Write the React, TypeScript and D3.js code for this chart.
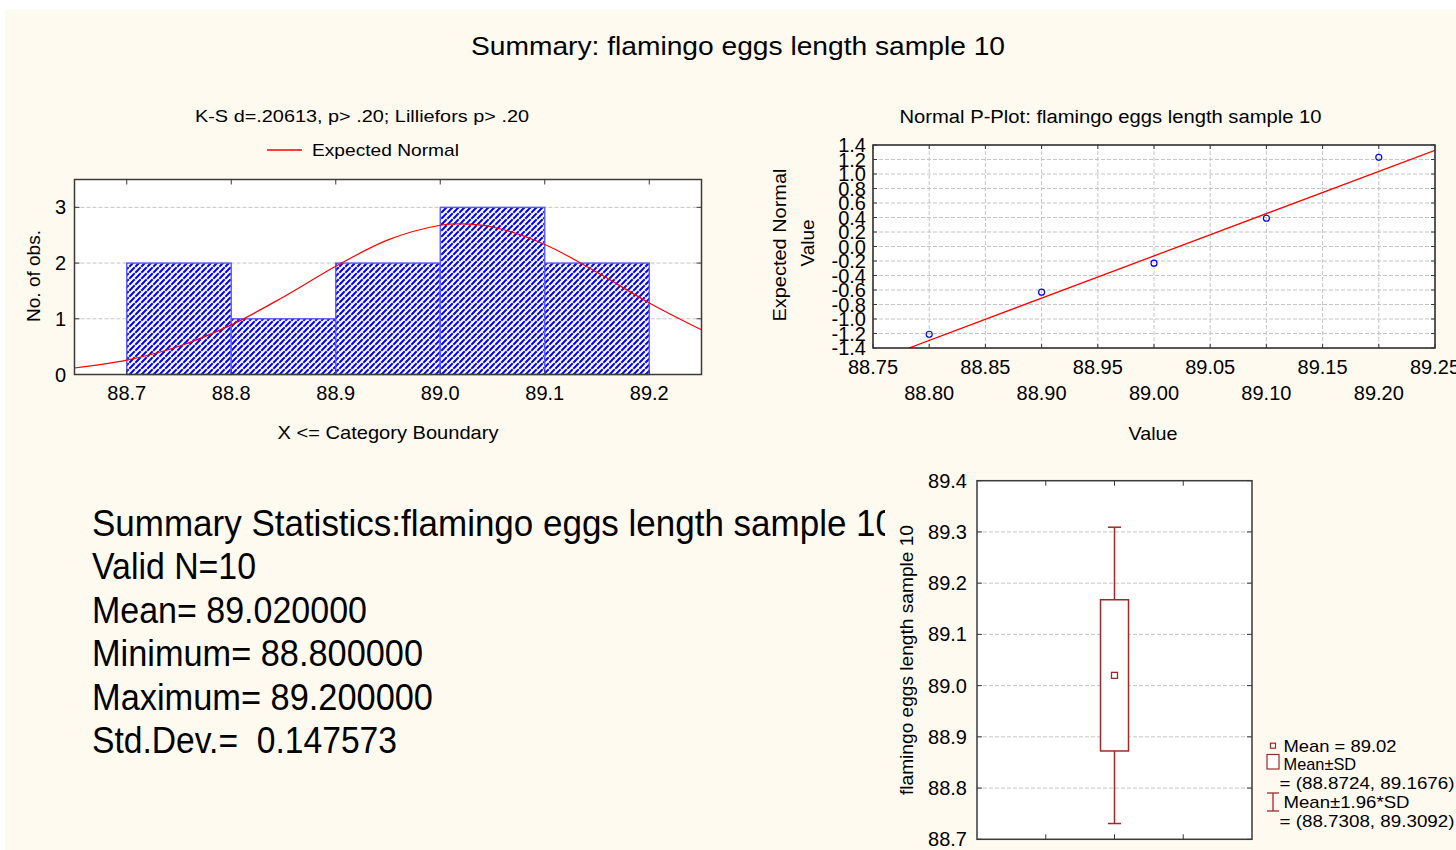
import React from 'react';
import * as d3 from 'd3';

const W = 1456;
const H = 850;
const FONT = '"Liberation Sans", Arial, Helvetica, sans-serif';

// ---------- text ----------
const mainTitle = 'Summary: flamingo eggs length sample 10';
const histTitle = 'K-S d=.20613, p> .20; Lilliefors p> .20';
const histLegend = 'Expected Normal';
const histXTitle = 'X <= Category Boundary';
const histYTitle = 'No. of obs.';
const ppTitle = 'Normal P-Plot: flamingo eggs length sample 10';
const ppYTitle1 = 'Expected Normal';
const ppYTitle2 = 'Value';
const ppXTitle = 'Value';
const boxYTitle = 'flamingo eggs length sample 10';
const summaryLines = [
  'Summary Statistics:flamingo eggs length sample 10',
  'Valid N=10',
  'Mean= 89.020000',
  'Minimum= 88.800000',
  'Maximum= 89.200000',
  'Std.Dev.=  0.147573',
];
const boxLegendLines = [
  'Mean = 89.02',
  'Mean\u00B1SD',
  '= (88.8724, 89.1676)',
  'Mean\u00B11.96*SD',
  '= (88.7308, 89.3092)',
];

// ---------- histogram data ----------
const histBounds = [88.7, 88.8, 88.9, 89.0, 89.1, 89.2];
const histCounts = [2, 1, 2, 3, 2];
const histYTicks = [0, 1, 2, 3];
const histXTicks = [88.7, 88.8, 88.9, 89.0, 89.1, 89.2];
const normalX = [88.65, 88.7, 88.75, 88.8, 88.85, 88.9, 88.95, 89.0, 89.02, 89.05, 89.1, 89.15, 89.2, 89.25];
const normalY = [0.117, 0.258, 0.507, 0.89, 1.392, 1.942, 2.416, 2.679, 2.703, 2.648, 2.334, 1.834, 1.285, 0.802];

// ---------- P-plot data ----------
const ppValues = [88.8, 88.9, 89.0, 89.1, 89.2];
const ppExpected = [-1.21, -0.63, -0.23, 0.39, 1.23];
const ppLineX = [88.782, 89.25];
const ppLineY = [-1.4, 1.327];
const ppXTicks = [88.75, 88.8, 88.85, 88.9, 88.95, 89.0, 89.05, 89.1, 89.15, 89.2, 89.25];
const ppYTicks = [1.4, 1.2, 1.0, 0.8, 0.6, 0.4, 0.2, 0.0, -0.2, -0.4, -0.6, -0.8, -1.0, -1.2, -1.4];

// ---------- box plot data ----------
const boxMean = 89.02;
const boxSD = [88.8724, 89.1676];
const boxCI = [88.7308, 89.3092];
const boxYTicks = [88.7, 88.8, 88.9, 89.0, 89.1, 89.2, 89.3, 89.4];

const BOX_RED = '#a3282b';
const GRID = '#c4c4c4';
const FRAME = '#3a3a3a';

type TProps = {
  x: number; y: number; size: number; children: string;
  anchor?: 'start' | 'middle' | 'end'; len?: number; rotate?: boolean; fill?: string;
};
function T({ x, y, size, children, anchor = 'start', len, rotate, fill = '#000' }: TProps) {
  return (
    <text
      x={x}
      y={y}
      fontSize={size}
      fontFamily={FONT}
      textAnchor={anchor}
      fill={fill}
      textLength={len}
      lengthAdjust={len ? 'spacingAndGlyphs' : undefined}
      transform={rotate ? `rotate(-90 ${x} ${y})` : undefined}
      style={{ whiteSpace: 'pre' }}
    >
      {children}
    </text>
  );
}

function Histogram() {
  const L = 74.5, R = 701.5, TOP = 179.5, B = 374.5;
  const x = d3.scaleLinear().domain([88.65, 89.25]).range([L, R]);
  const y = d3.scaleLinear().domain([0, 3.5]).range([B, TOP]);
  const line = d3
    .line<number>()
    .x((_, i) => x(normalX[i]))
    .y((d) => y(d))
    .curve(d3.curveCatmullRom.alpha(0.5));
  return (
    <g>
      <T x={362} y={122} size={17} anchor="middle" len={334}>{histTitle}</T>
      <line x1={267} x2={302} y1={150} y2={150} stroke="#ff0000" strokeWidth={1.3} />
      <T x={312} y={156} size={17} len={147}>{histLegend}</T>
      <rect x={L} y={TOP} width={R - L} height={B - TOP} fill="#fff" />
      {histYTicks.filter((v) => v > 0).map((v) => (
        <line key={v} x1={L} x2={R} y1={y(v)} y2={y(v)} stroke={GRID} strokeDasharray="4,2" strokeWidth={1} />
      ))}
      {histCounts.map((c, i) => {
        const x0 = x(histBounds[i]);
        const x1 = x(histBounds[i + 1]);
        return (
          <rect key={i} x={x0} y={y(c)} width={x1 - x0} height={y(0) - y(c)}
            fill="url(#hatch)" stroke="#5a5aff" strokeWidth={1.4} />
        );
      })}
      <path d={line(normalY) || ''} fill="none" stroke="#ff0000" strokeWidth={1.2} clipPath="url(#histClip)" />
      <rect x={L} y={TOP} width={R - L} height={B - TOP} fill="none" stroke={FRAME} strokeWidth={1.5} />
      {histYTicks.map((v) => (
        <g key={v}>
          <line x1={L} x2={L + 5} y1={y(v)} y2={y(v)} stroke={FRAME} />
          <line x1={R - 5} x2={R} y1={y(v)} y2={y(v)} stroke={FRAME} />
          <T x={66} y={y(v) + 7} size={20} anchor="end">{String(v)}</T>
        </g>
      ))}
      {histXTicks.map((v) => (
        <g key={v}>
          <line x1={x(v)} x2={x(v)} y1={B} y2={B - 5} stroke={FRAME} />
          <line x1={x(v)} x2={x(v)} y1={TOP} y2={TOP + 5} stroke={FRAME} />
          <T x={x(v)} y={400} size={20} anchor="middle">{d3.format('.1f')(v)}</T>
        </g>
      ))}
      <T x={40} y={276} size={19} anchor="middle" rotate len={92}>{histYTitle}</T>
      <T x={388} y={439} size={19} anchor="middle" len={221}>{histXTitle}</T>
    </g>
  );
}

function PPlot() {
  const L = 873, R = 1435, TOP = 145, B = 348;
  const x = d3.scaleLinear().domain([88.75, 89.25]).range([L, R]);
  const y = d3.scaleLinear().domain([-1.4, 1.4]).range([B, TOP]);
  const line = d3
    .line<number>()
    .x((d) => x(d))
    .y((_, i) => y(ppLineY[i]));
  return (
    <g>
      <T x={1110.5} y={123} size={18} anchor="middle" len={422}>{ppTitle}</T>
      <rect x={L} y={TOP} width={R - L} height={B - TOP} fill="#fff" />
      {ppXTicks.slice(1, -1).map((v) => (
        <line key={v} x1={x(v)} x2={x(v)} y1={TOP} y2={B} stroke={GRID} strokeDasharray="4,2" />
      ))}
      {ppYTicks.slice(1, -1).map((v) => (
        <line key={v} x1={L} x2={R} y1={y(v)} y2={y(v)} stroke={GRID} strokeDasharray="4,2" />
      ))}
      <path d={line(ppLineX) || ''} fill="none" stroke="#ff0000" strokeWidth={1.3} clipPath="url(#ppClip)" />
      {ppValues.map((v, i) => (
        <circle key={v} cx={x(v)} cy={y(ppExpected[i])} r={3} fill="none" stroke="#0000ff" strokeWidth={1.2} />
      ))}
      <rect x={L} y={TOP} width={R - L} height={B - TOP} fill="none" stroke="#202020" strokeWidth={1.5} />
      {ppYTicks.map((v) => (
        <g key={v}>
          <line x1={L} x2={L + 4} y1={y(v)} y2={y(v)} stroke={FRAME} />
          <line x1={R - 4} x2={R} y1={y(v)} y2={y(v)} stroke={FRAME} />
          <T x={866} y={y(v) + 7} size={20} anchor="end">{d3.format('.1f')(v).replace('\u2212', '-')}</T>
        </g>
      ))}
      {ppXTicks.map((v, i) => (
        <g key={v}>
          <line x1={x(v)} x2={x(v)} y1={B} y2={B - 4} stroke={FRAME} />
          <line x1={x(v)} x2={x(v)} y1={TOP} y2={TOP + 4} stroke={FRAME} />
          <T x={x(v)} y={i % 2 === 0 ? 374 : 400} size={20} anchor="middle">{d3.format('.2f')(v)}</T>
        </g>
      ))}
      <T x={786} y={245} size={19} anchor="middle" rotate len={153}>{ppYTitle1}</T>
      <T x={814} y={243} size={19} anchor="middle" rotate len={47}>{ppYTitle2}</T>
      <T x={1153} y={440} size={19} anchor="middle" len={49}>{ppXTitle}</T>
    </g>
  );
}

function BoxPlot() {
  const L = 977, R = 1252, TOP = 480.7, B = 839.3;
  const y = d3.scaleLinear().domain([88.7, 89.4]).range([B, TOP]);
  const x = d3.scaleLinear().domain([0, 4]).range([L, R]);
  const cx = x(2);
  const boxW = 28;
  const capW = 13;
  const legX = 1273;
  const legY = [745.7, 764.3, 783.3, 802.3, 821.3];
  const legLen = [113, 72.7, 175, 126, 175];
  const legStart = [1283.5, 1283.5, 1279.5, 1283.5, 1279.5];
  return (
    <g>
      <rect x={L} y={TOP} width={R - L} height={B - TOP} fill="#fff" />
      {boxYTicks.slice(1, -1).map((v) => (
        <line key={v} x1={L} x2={R} y1={y(v)} y2={y(v)} stroke={GRID} strokeDasharray="4,2" />
      ))}
      <line x1={cx} x2={cx} y1={y(boxCI[1])} y2={y(boxSD[1])} stroke={BOX_RED} strokeWidth={1.5} />
      <line x1={cx} x2={cx} y1={y(boxSD[0])} y2={y(boxCI[0])} stroke={BOX_RED} strokeWidth={1.5} />
      <line x1={cx - capW / 2} x2={cx + capW / 2} y1={y(boxCI[1])} y2={y(boxCI[1])} stroke={BOX_RED} strokeWidth={1.5} />
      <line x1={cx - capW / 2} x2={cx + capW / 2} y1={y(boxCI[0])} y2={y(boxCI[0])} stroke={BOX_RED} strokeWidth={1.5} />
      <rect x={cx - boxW / 2} y={y(boxSD[1])} width={boxW} height={y(boxSD[0]) - y(boxSD[1])}
        fill="#fff" stroke={BOX_RED} strokeWidth={1.5} />
      <rect x={cx - 3} y={y(boxMean) - 3} width={6} height={6} fill="#fff" stroke={BOX_RED} strokeWidth={1.3} />
      <rect x={L} y={TOP} width={R - L} height={B - TOP} fill="none" stroke={FRAME} strokeWidth={1.5} />
      {boxYTicks.map((v) => (
        <g key={v}>
          <line x1={L} x2={L + 5} y1={y(v)} y2={y(v)} stroke={FRAME} />
          <line x1={R - 5} x2={R} y1={y(v)} y2={y(v)} stroke={FRAME} />
          <T x={967} y={y(v) + 7} size={20} anchor="end">{d3.format('.1f')(v)}</T>
        </g>
      ))}
      {[1, 2, 3].map((q) => (
        <g key={q}>
          <line x1={x(q)} x2={x(q)} y1={TOP} y2={TOP + 5} stroke={FRAME} />
          <line x1={x(q)} x2={x(q)} y1={B} y2={B - 5} stroke={FRAME} />
        </g>
      ))}
      <T x={913} y={660} size={19} anchor="middle" rotate len={270}>{boxYTitle}</T>
      {/* legend */}
      <rect x={legX - 2.5} y={legY[0] - 2.5} width={5} height={5} fill="#fff" stroke={BOX_RED} strokeWidth={1.2} />
      <rect x={1267} y={754.5} width={12} height={14.5} fill="#fff" stroke={BOX_RED} strokeWidth={1.2} />
      <line x1={1267} x2={1279} y1={793} y2={793} stroke={BOX_RED} strokeWidth={1.3} />
      <line x1={1267} x2={1279} y1={811} y2={811} stroke={BOX_RED} strokeWidth={1.3} />
      <line x1={legX} x2={legX} y1={793} y2={811} stroke={BOX_RED} strokeWidth={1.3} />
      {boxLegendLines.map((s, i) => (
        <T key={i} x={legStart[i]} y={legY[i] + 6} size={17} len={legLen[i]}>{s}</T>
      ))}
    </g>
  );
}

function Summary() {
  const baselines = [536, 579.4, 622.8, 666.2, 709.6, 753];
  const widths = [803, 164, 275, 331, 341, 305];
  return (
    <g clipPath="url(#sumClip)">
      {summaryLines.map((s, i) => (
        <T key={i} x={92} y={baselines[i]} size={36} len={widths[i]}>{s}</T>
      ))}
    </g>
  );
}

export default function App() {
  return (
    <svg width={W} height={H} style={{ position: 'absolute', left: 0, top: 0, display: 'block' }}
      xmlns="http://www.w3.org/2000/svg">
      <defs>
        <pattern id="hatch" patternUnits="userSpaceOnUse" width={6} height={6}>
          <rect width={6} height={6} fill="#fff" />
          <path d="M0,6 L2.7,3.3 M3.3,2.7 L6,0 M-1,1 L1,-1 M5,7 L7,5" stroke="#0000ff" strokeWidth={2} />
        </pattern>
        <clipPath id="histClip">
          <rect x={74.5} y={179.5} width={627} height={195} />
        </clipPath>
        <clipPath id="ppClip">
          <rect x={873} y={145} width={562} height={203} />
        </clipPath>
        <clipPath id="sumClip">
          <rect x={0} y={480} width={885} height={300} />
        </clipPath>
      </defs>
      <rect x={0} y={0} width={W} height={H} fill="#ffffff" />
      <rect x={5} y={9} width={W - 5} height={H - 9} fill="#fffaf0" />
      <T x={738} y={55} size={26} anchor="middle" len={534}>{mainTitle}</T>
      <Histogram />
      <PPlot />
      <BoxPlot />
      <Summary />
    </svg>
  );
}
